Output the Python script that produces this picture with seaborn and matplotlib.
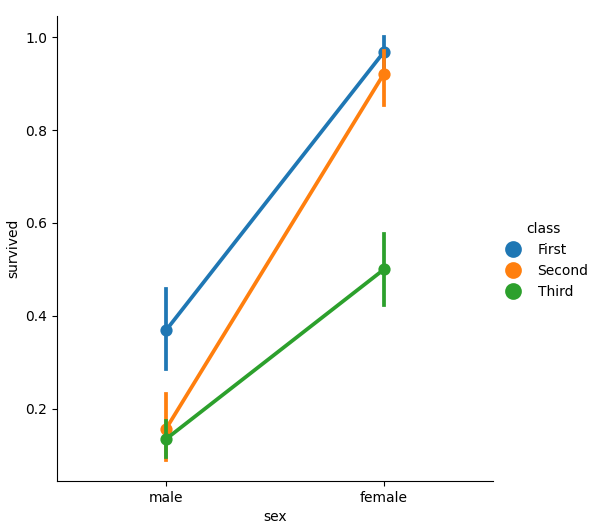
import seaborn as sns
import matplotlib
matplotlib.use("Agg")
import matplotlib.pyplot as plt
import pandas as pd

sexes = ["male", "female"]
classes = ["First", "Second", "Third"]
# survival rate (point estimate) and confidence interval bounds per class, per sex
mean_vals = {"First": [0.369, 0.968], "Second": [0.157, 0.921], "Third": [0.135, 0.500]}
ci_low = {"First": [0.286, 0.930], "Second": [0.090, 0.854], "Third": [0.097, 0.423]}
ci_high = {"First": [0.458, 1.000], "Second": [0.232, 0.970], "Third": [0.174, 0.577]}

rows = []
for c in classes:
    for i, s in enumerate(sexes):
        for v in (ci_low[c][i], mean_vals[c][i], ci_high[c][i]):
            rows.append({"sex": s, "class": c, "survived": v})
df = pd.DataFrame(rows)

g = sns.catplot(data=df, x="sex", y="survived", hue="class", kind="point",
                order=sexes, hue_order=classes,
                estimator="median", errorbar=("pi", 100))
fig = g.figure
fig.set_size_inches(6.01, 5.21)
fig.subplots_adjust(left=0.095, right=0.820, bottom=0.077, top=0.969)
ax = g.ax
ax.set_ylim(0.045, 1.045)
ax.set_xlim(-0.5, 1.5)
for h in g._legend.legend_handles:
    h.set_linestyle("")
    h.set_markersize(10)
fig.savefig("out.png", dpi=100)
